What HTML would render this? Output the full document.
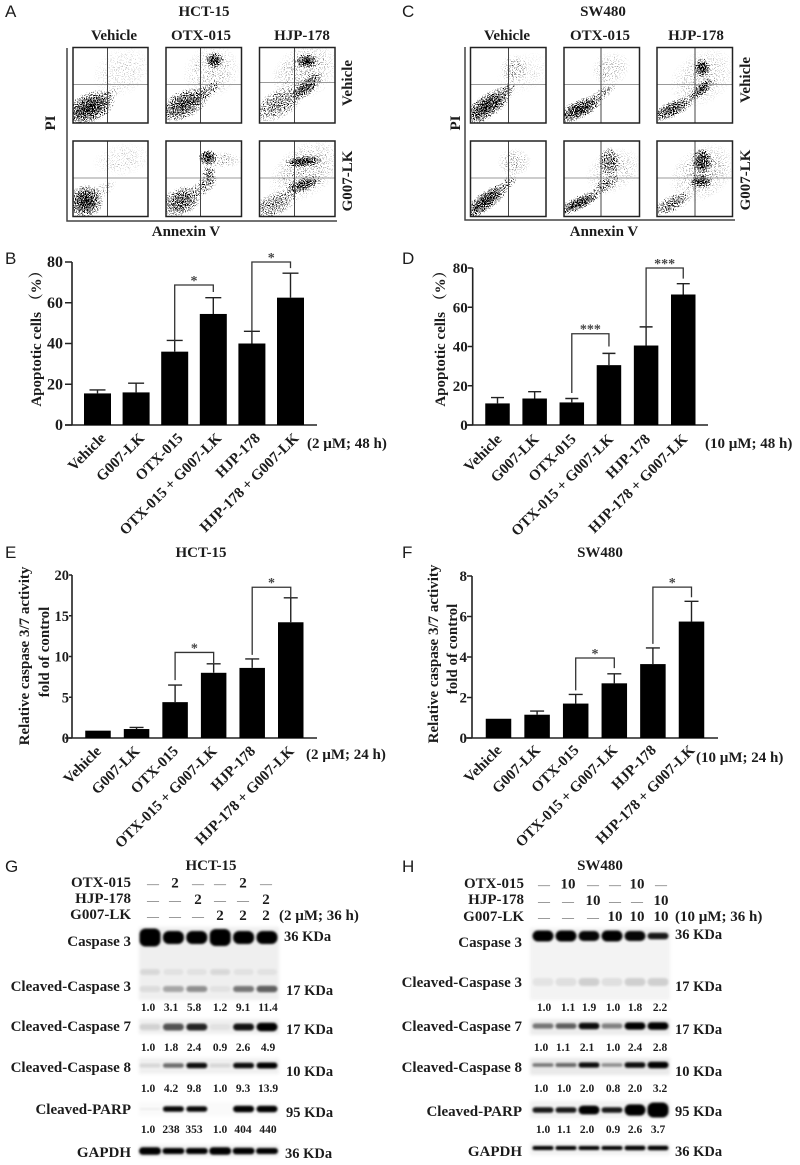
<!DOCTYPE html>
<html lang="en">
<head>
<meta charset="utf-8">
<title>Apoptosis figure</title>
<style>
html,body{margin:0;padding:0;background:#fff;}
svg{display:block;filter:blur(0.35px);}
text{font-family:"Liberation Serif","Noto Serif CJK SC",serif;font-weight:bold;fill:#1c1c1c;}
.letter{font-family:"Liberation Sans",sans-serif;font-weight:normal;font-size:17px;}
.title{font-size:15px;text-anchor:middle;}
.col{font-size:15px;text-anchor:middle;}
.ax{font-size:15px;text-anchor:middle;}
.cond{font-size:15px;}
.yl{font-size:15px;text-anchor:middle;}
.lab{font-size:15px;text-anchor:end;}
.kda{font-size:14.5px;}
</style>
</head>
<body>
<svg id="figure" xmlns="http://www.w3.org/2000/svg" width="800" height="1165" viewBox="0 0 800 1165">
<defs>
<radialGradient id="cloud"><stop offset="0" stop-color="#000" stop-opacity="1"/><stop offset="0.5" stop-color="#000" stop-opacity="0.72"/><stop offset="1" stop-color="#000" stop-opacity="0"/></radialGradient>
<filter id="speckle" x="0" y="0" width="1" height="1" color-interpolation-filters="sRGB">
<feTurbulence type="fractalNoise" baseFrequency="0.9" numOctaves="2" seed="7" result="n"/>
<feColorMatrix in="n" type="matrix" values="0 0 0 0 0 0 0 0 0 0 0 0 0 0 0 0 0 0 1 0" result="na"/>
<feComponentTransfer in="na" result="nb"><feFuncA type="linear" slope="3.2" intercept="-1.1"/></feComponentTransfer>
<feComposite in="SourceAlpha" in2="nb" operator="arithmetic" k1="0" k2="1" k3="1" k4="-1"/>
<feComponentTransfer><feFuncA type="linear" slope="5" intercept="0"/></feComponentTransfer>
</filter>
<filter id="soft" x="-30%" y="-100%" width="160%" height="300%"><feGaussianBlur stdDeviation="1.1"/></filter>
<filter id="softer" x="-10%" y="-20%" width="120%" height="140%"><feGaussianBlur stdDeviation="1.6"/></filter>
</defs>

<text class="letter" x="5" y="17">A</text>
<text class="letter" x="402" y="17">C</text>
<text class="letter" x="5" y="264">B</text>
<text class="letter" x="402" y="264">D</text>
<text class="letter" x="5" y="558">E</text>
<text class="letter" x="402" y="558">F</text>
<text class="letter" x="5" y="872">G</text>
<text class="letter" x="402" y="872">H</text>

<g id="panel-a">
<text class="title" x="204" y="16">HCT-15</text>
<text class="col" x="114" y="40">Vehicle</text>
<text class="col" x="201" y="40">OTX-015</text>
<text class="col" x="302" y="40">HJP-178</text>
<text class="col" transform="translate(352,83) rotate(-90)">Vehicle</text>
<text class="col" transform="translate(352,181) rotate(-90)">G007-LK</text>
<text class="ax" transform="translate(55,123) rotate(-90)">PI</text>
<text class="ax" x="186" y="236">Annexin V</text>
<path d="M67 48V221H337" fill="none" stroke="#444" stroke-width="1.5"/>
</g>

<g id="panel-c">
<text class="title" x="603" y="16">SW480</text>
<text class="col" x="507" y="40">Vehicle</text>
<text class="col" x="600" y="40">OTX-015</text>
<text class="col" x="696" y="40">HJP-178</text>
<text class="col" transform="translate(750,80) rotate(-90)">Vehicle</text>
<text class="col" transform="translate(750,180) rotate(-90)">G007-LK</text>
<text class="ax" transform="translate(460,123) rotate(-90)">PI</text>
<text class="ax" x="604" y="236">Annexin V</text>
<path d="M465 47V220H735" fill="none" stroke="#444" stroke-width="1.5"/>
</g>

<g id="chart-b">
<text class="yl" transform="translate(41,335) rotate(-90)">Apoptotic cells （%）</text>
<text class="cond" x="307" y="448">(2 µM; 48 h)</text>
</g>
<g id="chart-d">
<text class="yl" transform="translate(445,335) rotate(-90)">Apoptotic cells （%）</text>
<text class="cond" x="705" y="448">(10 µM; 48 h)</text>
</g>
<g id="chart-e">
<text class="title" x="201" y="557">HCT-15</text>
<text class="yl" transform="translate(29,656) rotate(-90)">Relative caspase 3/7 activity</text>
<text class="yl" transform="translate(49,652) rotate(-90)">fold of control</text>
<text class="cond" x="306" y="759">(2 µM; 24 h)</text>
</g>
<g id="chart-f">
<text class="title" x="600" y="557">SW480</text>
<text class="yl" transform="translate(438,654) rotate(-90)">Relative caspase 3/7 activity</text>
<text class="yl" transform="translate(457,649) rotate(-90)">fold of control</text>
<text class="cond" x="696" y="762">(10 µM; 24 h)</text>
</g>

<g id="blot-g">
<text class="title" x="211" y="870">HCT-15</text>
<text class="lab" x="131" y="887">OTX-015</text>
<text class="lab" x="131" y="903">HJP-178</text>
<text class="lab" x="131" y="919">G007-LK</text>
<text class="cond" x="279" y="920">(2 µM; 36 h)</text>
<text class="lab" x="131" y="946">Caspase 3</text>
<text class="lab" x="131" y="991">Cleaved-Caspase 3</text>
<text class="lab" x="131" y="1031">Cleaved-Caspase 7</text>
<text class="lab" x="131" y="1072">Cleaved-Caspase 8</text>
<text class="lab" x="131" y="1114">Cleaved-PARP</text>
<text class="lab" x="131" y="1157">GAPDH</text>
<text class="kda" x="284" y="941">36 KDa</text>
<text class="kda" x="286" y="995">17 KDa</text>
<text class="kda" x="286" y="1034">17 KDa</text>
<text class="kda" x="286" y="1076">10 KDa</text>
<text class="kda" x="286" y="1117">95 KDa</text>
<text class="kda" x="285" y="1158">36 KDa</text>
</g>
<g id="blot-h">
<text class="title" x="600" y="870">SW480</text>
<text class="lab" x="524" y="888">OTX-015</text>
<text class="lab" x="524" y="904">HJP-178</text>
<text class="lab" x="524" y="921">G007-LK</text>
<text class="cond" x="675" y="921">(10 µM; 36 h)</text>
<text class="lab" x="522" y="947">Caspase 3</text>
<text class="lab" x="522" y="987">Cleaved-Caspase 3</text>
<text class="lab" x="522" y="1031">Cleaved-Caspase 7</text>
<text class="lab" x="522" y="1072">Cleaved-Caspase 8</text>
<text class="lab" x="522" y="1116">Cleaved-PARP</text>
<text class="lab" x="522" y="1156">GAPDH</text>
<text class="kda" x="675" y="939">36 KDa</text>
<text class="kda" x="675" y="991">17 KDa</text>
<text class="kda" x="675" y="1034">17 KDa</text>
<text class="kda" x="675" y="1076">10 KDa</text>
<text class="kda" x="675" y="1116">95 KDa</text>
<text class="kda" x="675" y="1156">36 KDa</text>
</g>
</svg>

<script>
// ---- Bar chart data ----
const barCategories = ["Vehicle","G007-LK","OTX-015","OTX-015 + G007-LK","HJP-178","HJP-178 + G007-LK"];
const bMeans = [15.5,16,36,54.5,40,62.5];
const bErrorTops = [17.2,20.5,41.5,62.5,46,74.5];
const bTicks = [0,20,40,60,80];
const bBracketTops = [68.7,80];
const bBracketLeftEnds = [41,46];
const bBracketRightEnds = [65.3,77];
const bStars = ["*","*"];

const dMeans = [11,13.5,11.5,30.5,40.5,66.5];
const dErrorTops = [14,17,13.5,36.5,50,72];
const dTicks = [0,20,40,60,80];
const dBracketTops = [46.5,80];
const dBracketLeftEnds = [16.3,50];
const dBracketRightEnds = [40,74.6];
const dStars = ["***","***"];

const eMeans = [0.9,1.1,4.4,8,8.6,14.2];
const eErrorTops = [0.9,1.3,6.5,9.1,9.7,17.2];
const eTicks = [0,5,10,15,20];
const eBracketTops = [10.5,18.5];
const eBracketLeftEnds = [7.1,10.2];
const eBracketRightEnds = [9.2,17.2];
const eStars = ["*","*"];

const fMeans = [0.95,1.15,1.7,2.7,3.65,5.75];
const fErrorTops = [0.95,1.33,2.15,3.17,4.45,6.75];
const fTicks = [0,2,4,6,8];
const fBracketTops = [3.95,7.45];
const fBracketLeftEnds = [2.35,4.65];
const fBracketRightEnds = [3.45,6.95];
const fStars = ["*","*"];

// ---- Flow cytometry cell populations: [annexin %, PI %, spread x, spread y, tilt deg, density] ----
const flowAVehicleVehicle = [[22,20,23,13,25,1],[48,37,12,5,35,.55],[65,68,26,20,30,.42]];
const flowAOtxVehicle = [[23,24,23,12,25,.95],[52,40,17,6,35,.75],[64,83,8,7,0,1],[60,68,25,22,30,.5]];
const flowAHjpVehicle = [[25,25,23,12,30,.8],[62,48,17,7,40,.95],[62,82,10,6,0,1],[60,68,30,22,30,.55]];
const flowAVehicleG007 = [[17,20,15,14,30,1],[40,35,14,6,35,.5],[65,75,25,14,10,.42]];
const flowAOtxG007 = [[20,20,18,12,25,.92],[50,40,14,7,35,.7],[57,55,6,10,0,.85],[55,78,8,7,0,1],[75,75,17,7,0,.55]];
const flowAHjpG007 = [[20,16,21,10,25,.78],[58,42,17,6,20,.95],[58,73,16,5,5,1],[60,60,34,22,35,.55]];
const flowCVehicleVehicle = [[22,22,25,10,35,1],[50,45,8,5,45,.75],[58,72,12,12,0,.55],[70,65,25,16,30,.38]];
const flowCOtxVehicle = [[20,18,21,8,25,1],[48,37,17,5,35,.7],[62,72,17,14,20,.5],[55,55,5,16,0,.4]];
const flowCHjpVehicle = [[20,18,20,7,25,.95],[58,44,15,5,40,.95],[60,73,7,8,0,1],[60,60,30,22,35,.5]];
const flowCVehicleG007 = [[20,20,24,8,37,1],[50,45,9,5,40,.7],[58,72,14,12,0,.55]];
const flowCOtxG007 = [[20,18,21,6,25,.98],[55,42,14,6,35,.78],[60,73,9,12,0,.85],[65,60,25,18,30,.5]];
const flowCHjpG007 = [[20,17,18,7,25,.85],[58,47,10,6,0,.98],[60,73,9,11,0,1],[60,58,30,22,35,.55]];

// ---- Western blot data ----
const lanesTreatmentG = [["—","2","—","—","2","—"],["—","—","2","—","—","2"],["—","—","—","2","2","2"]];
const lanesTreatmentH = [["—","10","—","—","10","—"],["—","—","10","—","—","10"],["—","—","—","10","10","10"]];
const gCaspase3 = [1,1,1,1,1,1];
const gCaspase3Faint = [.09,.05,.05,.09,.05,.05];
const gCleaved3 = [.08,.3,.4,.05,.5,.6];
const gCleaved7 = [.12,.65,.85,.05,.92,1];
const gCleaved8 = [.1,.55,.95,.1,.95,1];
const gParp = [.05,.97,.97,0,1,1];
const gGapdh = [1,1,1,1,1,1];
const hCaspase3 = [1,1,.97,1,.97,.9];
const hCleaved3 = [.06,.08,.14,.08,.14,.14];
const hCleaved7 = [.5,.6,.95,.45,1,1];
const hCleaved8 = [.5,.55,.95,.4,.95,1];
const hParp = [.9,.9,1,.9,1,1];
const hGapdh = [1,1,1,1,1,1];
const gRatio3 = ["1.0","3.1","5.8","1.2","9.1","11.4"];
const gRatio7 = ["1.0","1.8","2.4","0.9","2.6","4.9"];
const gRatio8 = ["1.0","4.2","9.8","1.0","9.3","13.9"];
const gRatioParp = ["1.0","238","353","1.0","404","440"];
const hRatio3 = ["1.0","1.1","1.9","1.0","1.8","2.2"];
const hRatio7 = ["1.0","1.1","2.1","1.0","2.4","2.8"];
const hRatio8 = ["1.0","1.0","2.0","0.8","2.0","3.2"];
const hRatioParp = ["1.0","1.1","2.0","0.9","2.6","3.7"];

const NS = "http://www.w3.org/2000/svg";
function make(tag, parent, attrs, txt){
  const n = document.createElementNS(NS, tag);
  for (const k in attrs) n.setAttribute(k, attrs[k]);
  if (txt !== undefined) n.textContent = txt;
  parent.appendChild(n);
  return n;
}

function drawBarChart(id, c){
  const g = document.getElementById(id);
  const y = v => c.y0 - v * c.pxPerUnit;
  const x = i => c.x0 + i * c.step;
  const axis = make("path", g, {d:`M${c.axisX} ${y(c.ticks[c.ticks.length-1])}V${c.y0}M${c.axisX-7} ${c.y0}H${c.xEnd}`, fill:"none", stroke:"#222", "stroke-width":1.6});
  
  
  c.ticks.forEach(t => {
    const tick = make("line", g, {x1:c.axisX-c.tickLen, x2:c.axisX, y1:y(t), y2:y(t), stroke:"#222", "stroke-width":1.5});
    
    
    const lab = make("text", g, {x:c.axisX-c.tickGap, y:y(t)+5, "text-anchor":"end", "font-size":c.tickFont}, t);
    
    
  });
  c.means.forEach((m, i) => {
    const bar = make("rect", g, {x:x(i)-c.barW/2, y:y(m), width:c.barW, height:c.y0-y(m), fill:"#000"});
    
    
    if (c.errs[i] > m) {
      const err = make("path", g, {d:`M${x(i)} ${y(m)}V${y(c.errs[i])}M${x(i)-c.cap} ${y(c.errs[i])}H${x(i)+c.cap}`, fill:"none", stroke:"#222", "stroke-width":1.4});
      
      
    }
    const lab = make("text", g, {transform:`translate(${x(i)+c.labDx},${c.y0+c.labDy}) rotate(-45)`, "text-anchor":"end", "font-size":15}, barCategories[i]);
    
    
  });
  c.tops.forEach((t, b) => {
    const i = 2 + b * 2, j = i + 1;
    const br = make("path", g, {d:`M${x(i)} ${y(c.lefts[b])}V${y(t)}H${x(j)}V${y(c.rights[b])}`, fill:"none", stroke:"#333", "stroke-width":1.3});
    
    
    const st = make("text", g, {x:(x(i)+x(j))/2, y:y(t)+c.starDy, "text-anchor":"middle", "font-size":14, style:"fill:#444"}, c.stars[b]);
    
    
  });
}

drawBarChart("chart-b", {means:bMeans, errs:bErrorTops, ticks:bTicks, tops:bBracketTops, lefts:bBracketLeftEnds, rights:bBracketRightEnds, stars:bStars,
  y0:425, pxPerUnit:2.0375, x0:97.5, step:38.6, barW:27, cap:8, axisX:72, tickLen:7, tickGap:9, xEnd:317, labDx:9, labDy:14, starDy:0, tickFont:16});
drawBarChart("chart-d", {means:dMeans, errs:dErrorTops, ticks:dTicks, tops:dBracketTops, lefts:dBracketLeftEnds, rights:dBracketRightEnds, stars:dStars,
  y0:425, pxPerUnit:1.9625, x0:497.5, step:37.15, barW:24.5, cap:6.5, axisX:472.7, tickLen:5, tickGap:5, xEnd:708, labDx:5, labDy:15, starDy:0, tickFont:15});
drawBarChart("chart-e", {means:eMeans, errs:eErrorTops, ticks:eTicks, tops:eBracketTops, lefts:eBracketLeftEnds, rights:eBracketRightEnds, stars:eStars,
  y0:738, pxPerUnit:8.15, x0:98, step:38.55, barW:25.5, cap:7, axisX:72, tickLen:3, tickGap:3, xEnd:317, labDx:4, labDy:14, starDy:0, tickFont:14.5});
drawBarChart("chart-f", {means:fMeans, errs:fErrorTops, ticks:fTicks, tops:fBracketTops, lefts:fBracketLeftEnds, rights:fBracketRightEnds, stars:fStars,
  y0:738, pxPerUnit:20.25, x0:498.5, step:38.6, barW:25.5, cap:7, axisX:472, tickLen:5, tickGap:5, xEnd:718, labDx:4, labDy:13, starDy:0, tickFont:15});

let clipCount = 0;
function drawFlow(id, x, y, w, h, vx, hy, clusters){
  const g = document.getElementById(id);
  const px = v => x + v/100*w, py = v => y + h - v/100*h;
  clipCount += 1;
  const clip = make("clipPath", g, {id:"flow-clip-" + clipCount});
  
  
  const clipRect = make("rect", clip, {x:x, y:y, width:w, height:h});
  
  
  const area = make("g", g, {"clip-path":`url(#flow-clip-${clipCount})`});
  
  
  const cells = make("g", area, {filter:"url(#speckle)"});
  
  
  clusters.forEach(k => {
    const e = make("ellipse", cells, {cx:px(k[0]), cy:py(k[1]), rx:k[2]/100*w*1.6, ry:k[3]/100*h*1.6,
      transform:`rotate(${-k[4]} ${px(k[0])} ${py(k[1])})`, fill:"url(#cloud)", opacity:Math.pow(k[5],3)*0.95});
    
    
  });
  const hLine = make("line", g, {x1:x, x2:x+w, y1:hy, y2:hy, stroke:"#999", "stroke-width":1});
  
  
  const vLine = make("line", g, {x1:vx, x2:vx, y1:y, y2:y+h, stroke:"#444", "stroke-width":1});
  
  
  const box = make("rect", g, {x:x, y:y, width:w, height:h, fill:"none", stroke:"#222", "stroke-width":1.5});
  
  
}

drawFlow("panel-a",73,47.5,75,75.5,107.5,84.5,flowAVehicleVehicle);
drawFlow("panel-a",166,47.5,75.5,75.5,200.5,84.5,flowAOtxVehicle);
drawFlow("panel-a",259.5,47.5,75.5,75.5,294.5,82.5,flowAHjpVehicle);
drawFlow("panel-a",73,141,75,75.5,107.5,178,flowAVehicleG007);
drawFlow("panel-a",166,141,75.5,75.5,200.5,178,flowAOtxG007);
drawFlow("panel-a",259.5,141,75.5,75.5,294.5,178,flowAHjpG007);
drawFlow("panel-c",470.5,47.5,75.5,75.5,508.5,84.5,flowCVehicleVehicle);
drawFlow("panel-c",564,47.5,75.5,75.5,601,84.5,flowCOtxVehicle);
drawFlow("panel-c",657,47.5,75.5,75.5,695,84.5,flowCHjpVehicle);
drawFlow("panel-c",470.5,141,75.5,75.5,508.5,178,flowCVehicleG007);
drawFlow("panel-c",564,141,75.5,75.5,601,178,flowCOtxG007);
drawFlow("panel-c",657,141,75.5,75.5,695,178,flowCHjpG007);

function drawGel(id, x, y, w, h, shade){
  const g = document.getElementById(id);
  const r = make("rect", g, {x:x, y:y, width:w, height:h, fill:shade, filter:"url(#softer)"});
  
  
}
function drawBands(id, x0, step, cy, halfW, ry, values){
  const g = document.getElementById(id);
  values.forEach((v, i) => {
    if (v <= 0) return;
    const b = make("rect", g, {x:x0+i*step-halfW, y:cy-ry[i], width:2*halfW, height:2*ry[i], rx:Math.min(ry[i],6), fill:"#000", opacity:v, filter:"url(#soft)"});
    
    
  });
}
function drawRatios(id, xs, y, values){
  const g = document.getElementById(id);
  values.forEach((v, i) => {
    const t = make("text", g, {x:xs[i], y:y, "text-anchor":"middle", "font-size":11.5}, v);
    
    
  });
}
function drawTreatments(id, xs, y, rows){
  const g = document.getElementById(id);
  rows.forEach((row, r) => row.forEach((v, i) => {
    const t = make("text", g, {x:xs[i], y:y + r*16.3, "text-anchor":"middle", "font-size":v === "—" ? 12 : 15, style:v === "—" ? "font-weight:normal;fill:#555" : ""}, v);
    
    
  }));
}

const gX = [153,175,198,220,243,266];
drawTreatments("blot-g", gX, 887.5, lanesTreatmentG);
drawGel("blot-g",139,927,140,73,"#efefef");
drawGel("blot-g",139,1019,140,15,"#efefef");
drawGel("blot-g",139,1058,140,16,"#f0f0f0");
drawGel("blot-g",139,1102,140,14,"#fafafa");
drawGel("blot-g",139,1145,140,12,"#f0f0f0");
drawBands("blot-g",150,23.4,937.5,10.5,[9,6.5,6.5,8.5,6.5,6.5],gCaspase3);
drawBands("blot-g",150,23.4,972,10,[3,3,3,3,3,3],gCaspase3Faint);
drawBands("blot-g",150,23.4,989,10.5,[3,3,3,3,3,3.2],gCleaved3);
drawBands("blot-g",150,23.4,1027,10.5,[3,3.5,3.5,3,3.5,4.2],gCleaved7);
drawBands("blot-g",150,23.4,1065.5,10.5,[2,2.2,2.8,2,2.8,3],gCleaved8);
drawBands("blot-g",150,23.4,1109,10.5,[1,2.8,2.8,1,3.2,3.2],gParp);
drawBands("blot-g",150,23.4,1151,11,[3.8,3,3,3.8,3.2,3],gGapdh);
drawRatios("blot-g",[148,171,194,220,243,268],1011,gRatio3);
drawRatios("blot-g",[148,171,194,220,243,268],1051,gRatio7);
drawRatios("blot-g",[148,171,194,220,243,268],1092,gRatio8);
drawRatios("blot-g",[148,171,194,220,243,268],1133,gRatioParp);

const hX = [544,568,593,615,637,661];
drawTreatments("blot-h", hX, 888.5, lanesTreatmentH);
drawGel("blot-h",530,928,140,72,"#f3f3f3");
drawGel("blot-h",530,1019,140,16,"#ececec");
drawGel("blot-h",530,1058,140,17,"#e9e9e9");
drawGel("blot-h",530,1101,140,17,"#f2f2f2");
drawGel("blot-h",530,1143,140,12,"#f2f2f2");
drawBands("blot-h",543,23,936,10.5,[5.5,5.5,5,5.5,5,3.2],hCaspase3);
drawBands("blot-h",543,23,982,10.5,[4,4,4,4,4,4],hCleaved3);
drawBands("blot-h",543,23,1026,10.5,[2.6,2.8,3.2,2.6,3.6,3.8],hCleaved7);
drawBands("blot-h",543,23,1065,10.5,[1.8,2,2.6,1.8,2.8,3.2],hCleaved8);
drawBands("blot-h",543,23,1110,10.5,[2.8,2.8,4.4,2.8,5.6,7.5],hParp);
drawBands("blot-h",543,23,1148,10.5,[2,2,2,2,2.2,2.2],hGapdh);
drawRatios("blot-h",[544,568,589,613,635,660],1011,hRatio3);
drawRatios("blot-h",[541,563,587,613,635,660],1051,hRatio7);
drawRatios("blot-h",[541,564,587,613,635,660],1092,hRatio8);
drawRatios("blot-h",[543,564,587,613,635,658],1133,hRatioParp);
</script>
</body>
</html>
